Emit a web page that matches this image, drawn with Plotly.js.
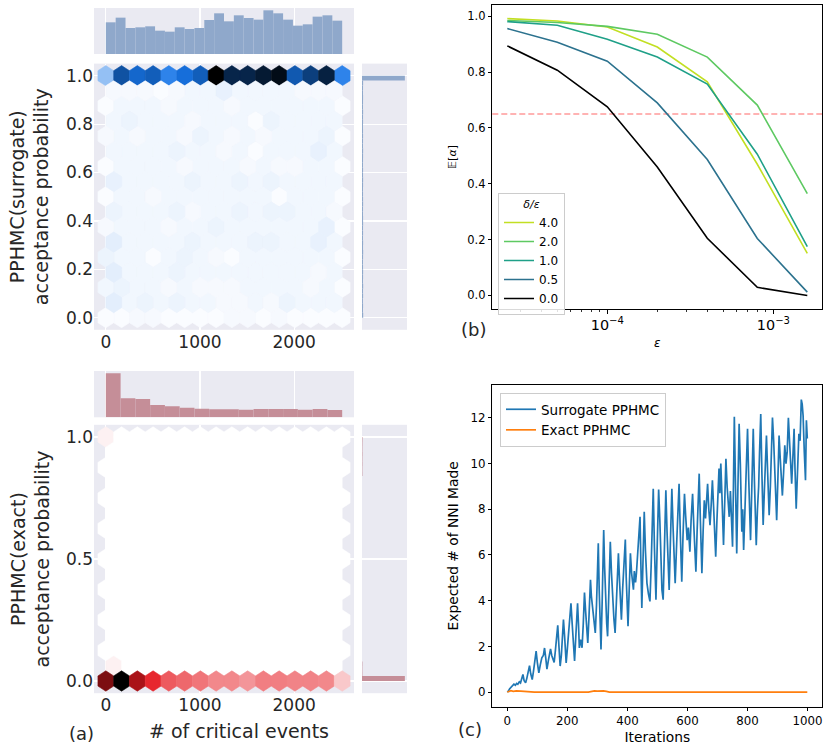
<!DOCTYPE html>
<html>
<head>
<meta charset="utf-8">
<script src="https://cdn.plot.ly/plotly-3.0.1.min.js"></script>
<style>html,body{margin:0;padding:0;background:#fff}#chart{width:831px;height:748px}</style>
</head>
<body>
<div id="chart"></div>
<script>
// ================= DATA =================
// (a) joint plots: number of critical events vs. acceptance probability
const maxEvents = 2510;
const hexColumns = 15;          // hexbin gridsize in x
const hexRowsPerUnit = 8;       // hexbin gridsize in y

// top marginal histograms (counts per bin of # critical events)
const surrEventHist = [95,109,78,80,83,70,67,80,75,78,102,122,98,116,108,103,131,122,103,85,89,112,116,100];
const exactEventHist = [132,57,55,37,33,29,26,24,24,23,25,25,25,23,25,22];

// right marginal histograms (acceptance probability, bins of 0.02 from 0 to 1)
const accBinWidth = 0.02;
const surrAccHist = [2.8,2.3,2.5,2.2,2.6,2.4,2.7,2.3,2.5,2.6,2.4,2.3,2.5,2.7,2.4,2.6,2.3,2.5,2.4,2.6,2.5,2.3,2.4,2.6,2.5,2.4,2.3,2.5,2.6,2.4,2.5,2.3,2.4,2.5,2.6,2.3,2.4,2.5,2.4,2.3,2.5,2.4,2.6,2.3,2.4,2.5,2.3,2.4,2.6,100];
const exactAccHist = [100,0.9,0.8,0.9,0,0,0,0,0,0,0,0,0,0,0,0,0,0,0,0,0,0,0,0,0,0,0,0,0,0,0,0,0,0,0,0,0,0,0,0,0,0,0.9,0.8,1.0,0.9,1.1,0.9,1.0,1.1];

// hexbin counts, main lattice rows (y = 1.0 down to 0.0), 16 hexes each
const surrHexMain = [
  [23,65,56,60,45,53,60,100,84,84,89,95,62,73,86,45],
  [1,3,3,3,2,3,3,3,2,3,3,3,3,3,3,1],
  [2,3,2,3,3,2,4,3,2,3,2,3,3,3,4,1],
  [1,3,3,3,3,2,3,3,3,2,3,2,2,3,3,1],
  [1,3,3,2,3,3,3,3,3,3,3,1,3,3,3,1],
  [2,3,3,3,2,3,3,4,3,3,3,3,3,3,5,1],
  [4,3,3,1,3,4,3,2,1,3,3,3,3,3,3,1],
  [3,4,3,3,2,3,2,2,2,3,3,3,3,2,3,1],
  [1,1,2,2,1,1,1,1,2,2,1,2,1,1,1,1]
];
// offset lattice rows (y = 0.9375 down to 0.0625), 15 hexes each
const surrHexOffset = [
  [2,2,2,1,2,3,3,5,3,3,3,3,2,2,2],
  [3,4,3,3,3,2,3,3,3,1,4,3,3,3,3],
  [3,3,3,3,4,3,3,2,3,1,3,3,3,5,3],
  [5,3,3,3,3,4,3,3,4,3,4,3,3,3,3],
  [4,3,3,3,4,2,3,3,4,3,4,4,3,3,2],
  [6,3,3,3,3,4,3,3,3,4,4,3,3,5,3],
  [6,3,3,3,4,3,3,3,3,3,3,3,3,2,3],
  [6,3,4,3,4,3,3,2,2,3,2,4,3,3,3]
];
const exactHexMain = [
  [3,0,0,0,0,0,0,0,0,0,0,0,0,0,0,0],
  [0,0,0,0,0,0,0,0,0,0,0,0,0,0,0,0],
  [0,0,0,0,0,0,0,0,0,0,0,0,0,0,0,0],
  [0,0,0,0,0,0,0,0,0,0,0,0,0,0,0,0],
  [0,0,0,0,0,0,0,0,0,0,0,0,0,0,0,0],
  [0,0,0,0,0,0,0,0,0,0,0,0,0,0,0,0],
  [0,0,0,0,0,0,0,0,0,0,0,0,0,0,0,0],
  [0,0,0,0,0,0,0,0,0,0,0,0,0,0,0,0],
  [73,100,63,47,36,33,30,26,26,23,28,28,27,27,26,12]
];
const exactHexOffset = [
  [0,0,0,0,0,0,0,0,0,0,0,0,0,0,0],
  [0,0,0,0,0,0,0,0,0,0,0,0,0,0,0],
  [0,0,0,0,0,0,0,0,0,0,0,0,0,0,0],
  [0,0,0,0,0,0,0,0,0,0,0,0,0,0,0],
  [0,0,0,0,0,0,0,0,0,0,0,0,0,0,0],
  [0,0,0,0,0,0,0,0,0,0,0,0,0,0,0],
  [0,0,0,0,0,0,0,0,0,0,0,0,0,0,0],
  [3,0,0,0,0,0,0,0,0,0,0,0,0,0,0]
];

// (b) expected acceptance vs step size
const epsilon = [2.5e-5, 5e-5, 1e-4, 2e-4, 4e-4, 8e-4, 1.6e-3];
const ratioLabels = ['4.0', '2.0', '1.0', '0.5', '0.0'];
const accRatio4 = [0.992, 0.983, 0.962, 0.890, 0.765, 0.470, 0.151];
const accRatio2 = [0.985, 0.978, 0.964, 0.936, 0.854, 0.682, 0.365];
const accRatio1 = [0.981, 0.968, 0.918, 0.854, 0.757, 0.506, 0.175];
const accRatio05 = [0.956, 0.907, 0.839, 0.690, 0.487, 0.204, 0.012];
const accRatio0 = [0.894, 0.807, 0.676, 0.460, 0.205, 0.029, 0.000];
const targetAcceptance = 0.65;

// (c) expected number of NNI moves
const iterSurr = [0,4,8,13,18,22,27,31,35,40,44,48,52,56,61,65,70,74,78,83,87,92,96,100,105,110,115,120,124,128,132,137,141,144,148,152,156,160,164,168,172,176,180,184,187,191,196,200,204,208,212,216,220,224,228,231,234,237,240,244,249,253,257,261,264,268,272,277,280,284,288,293,297,300,303,306,309,312,316,321,324,327,331,334,338,343,347,351,355,359,363,366,370,374,377,380,384,388,393,396,399,402,406,410,414,417,420,423,427,430,434,438,442,445,448,452,456,460,465,470,475,479,482,486,490,495,499,504,508,512,515,519,523,528,532,535,539,543,548,552,556,559,564,568,572,576,581,585,590,594,599,603,608,612,617,621,625,628,632,636,639,643,648,652,656,660,664,667,671,675,679,683,687,691,694,698,702,705,708,711,715,720,724,728,732,736,739,743,746,750,753,756,760,764,768,772,776,781,784,787,790,794,797,800,804,807,810,814,819,823,826,829,833,837,840,844,848,852,856,860,863,867,872,876,880,883,887,890,894,897,901,905,909,912,916,920,924,928,932,936,940,944,947,951,955,958,962,966,971,975,979,982,985,989,993,996,999];
const nniSurr = [0,0.05,0.15,0.22,0.25,0.35,0.3,0.38,0.34,0.45,0.4,0.6,0.77,0.5,0.41,0.6,0.95,1.16,0.8,0.55,0.9,1.4,1.79,1.3,0.84,1.2,1.5,1.6,1.93,1.5,1.0,1.4,1.7,1.89,1.6,1.42,1.3,1.8,2.4,2.92,2.0,1.14,1.6,2.6,3.17,2.4,1.28,1.9,2.6,3.3,3.89,3.0,2.0,1.36,2.4,3.2,3.89,3.0,1.93,2.3,1.94,3.0,4.36,3.5,2.8,2.15,3.3,4.91,4.2,3.75,3.2,2.59,3.8,5.3,6.51,4.5,3.0,1.86,4.0,7.09,5.5,4.2,3.0,2.44,4.0,6.58,5.2,4.04,3.2,2.59,3.8,5.0,6.07,4.8,3.8,3.17,4.5,5.6,6.68,5.0,3.8,2.88,4.5,6.07,5.2,4.6,4.48,5.3,4.8,5.2,6.07,6.9,7.67,5.5,3.68,5.8,7.89,6.2,4.77,4.3,3.97,5.5,7.3,8.9,6.3,4.04,6.3,8.86,7.5,6.07,4.47,4.04,6.2,8.83,7.0,5.6,4.47,6.5,8.9,7.2,5.8,4.76,6.5,7.8,9.12,7.0,4.83,6.8,8.68,7.7,6.65,7.2,6.14,7.5,8.68,7.3,6.1,5.27,7.0,8.4,9.56,7.5,5.2,7.0,8.39,7.6,8.3,9.12,8.0,7.3,8.2,9.27,8.1,7.0,5.92,7.5,8.8,9.78,8.7,10.0,8.5,6.44,8.3,10.21,9.0,8.2,7.67,8.8,7.5,6.36,9.0,12.05,9.0,6.07,9.0,11.74,10.0,7.02,8.0,6.22,7.4,8.76,10.0,11.52,9.3,7.8,6.65,8.8,11.52,9.2,7.5,6.43,8.0,9.0,10.5,12.17,9.5,7.31,8.8,10.3,11.23,9.6,7.74,9.0,10.8,12.02,11.0,10.0,8.8,7.52,9.3,11.23,10.2,9.5,8.6,9.6,10.8,10.0,10.5,12.0,10.8,9.9,9.12,10.3,11.52,9.8,8.03,9.5,11.3,11.0,12.8,12.6,12.1,10.5,9.27,11.9,11.1];
const iterExact = [0,6,12,20,30,45,60,75,90,270,280,290,300,310,320,330,340,999];
const nniExact = [0,0.04,0.06,0.03,0.05,0.04,0.03,0.02,0,0,0.03,0.05,0.04,0.06,0.05,0.03,0,0];

// ================= LAYOUT HELPERS =================
const W = 831, H = 748;
const px = (a, b) => [a / W, b / W];
const py = (top, bottom) => [1 - bottom / H, 1 - top / H];
const dom = {
  hexX: px(94, 354), margX: px(362, 407),
  surrY: py(63.6, 329.8), surrHistY: py(8, 54),
  exactY: py(424.8, 693.2), exactHistY: py(371, 417.3),
  rightX: px(492.3, 822.3), bY: py(4.7, 309.3), cY: py(385, 706.7)
};
const darkText = '#262626';
const blueHue = 213, blueSat = 82, redHue = 358, redSat = 80;
const surrBarColor = '#8fa8cb', exactBarColor = '#c58e98';

function hexTraces(mainRows, offRows, hue, sat, xa, ya) {
  const sx = maxEvents / hexColumns, sy = 1 / hexRowsPerUnit;
  const cmax = Math.max(...mainRows.flat(), ...offRows.flat());
  const groups = {};
  const add = (cx, cy, c) => {
    const L = 100 * (1 - c / cmax);
    const col = 'hsl(' + hue + ',' + sat + '%,' + L.toFixed(1) + '%)';
    if (!groups[col]) groups[col] = {x: [], y: []};
    const g = groups[col];
    g.x.push(cx + sx/2, cx + sx/2, cx, cx - sx/2, cx - sx/2, cx, cx + sx/2, null);
    g.y.push(cy - sy/6, cy + sy/6, cy + sy/3, cy + sy/6, cy - sy/6, cy - sy/3, cy - sy/6, null);
  };
  mainRows.forEach((row, r) => row.forEach((c, i) => add(i * sx, 1 - r * sy, c)));
  offRows.forEach((row, r) => row.forEach((c, i) => add((i + 0.5) * sx, 1 - sy/2 - r * sy, c)));
  return Object.keys(groups).map(col => ({
    type: 'scatter', mode: 'lines', x: groups[col].x, y: groups[col].y,
    fill: 'toself', fillcolor: col, line: {color: col, width: 0.6},
    xaxis: xa, yaxis: ya, hoverinfo: 'skip', showlegend: false
  }));
}
function eventBars(counts, color, xa, ya) {
  const w = maxEvents / counts.length;
  return {type: 'bar', x: counts.map((_, i) => (i + 0.5) * w), y: counts, width: w,
    marker: {color: color, line: {width: 0}}, xaxis: xa, yaxis: ya, hoverinfo: 'skip', showlegend: false};
}
function accBars(counts, color, xa, ya) {
  return {type: 'bar', orientation: 'h', y: counts.map((_, i) => (i + 0.5) * accBinWidth), x: counts,
    width: accBinWidth, marker: {color: color, line: {width: 0}}, xaxis: xa, yaxis: ya, hoverinfo: 'skip', showlegend: false};
}

const traces = [];
traces.push(...hexTraces(surrHexMain, surrHexOffset, blueHue, blueSat, 'x', 'y'));
traces.push(eventBars(surrEventHist, surrBarColor, 'x2', 'y2'));
traces.push(accBars(surrAccHist, surrBarColor, 'x3', 'y3'));
traces.push(...hexTraces(exactHexMain, exactHexOffset, redHue, redSat, 'x4', 'y4'));
traces.push(eventBars(exactEventHist, exactBarColor, 'x5', 'y5'));
traces.push(accBars(exactAccHist, exactBarColor, 'x6', 'y6'));

const ratioSeries = [accRatio4, accRatio2, accRatio1, accRatio05, accRatio0];
const ratioColors = ['#c2df23', '#5ec962', '#1fa088', '#2c728e', '#000000'];
ratioSeries.forEach((vals, k) => traces.push({
  type: 'scatter', mode: 'lines', x: epsilon, y: vals, name: ratioLabels[k],
  line: {color: ratioColors[k], width: 1.6}, xaxis: 'x7', yaxis: 'y7', legend: 'legend'
}));
traces.push({type: 'scatter', mode: 'lines', x: iterSurr, y: nniSurr, name: 'Surrogate PPHMC',
  line: {color: '#1f77b4', width: 1.7}, xaxis: 'x8', yaxis: 'y8', legend: 'legend2'});
traces.push({type: 'scatter', mode: 'lines', x: iterExact, y: nniExact, name: 'Exact PPHMC',
  line: {color: '#ff7f0e', width: 1.7}, xaxis: 'x8', yaxis: 'y8', legend: 'legend2'});

// axis ranges (matplotlib style 5% margins)
const evRange = [-0.05 * maxEvents, 1.05 * maxEvents];
const accRange = [-0.05, 1.05];
const lgLo = Math.log10(epsilon[0]), lgHi = Math.log10(epsilon[epsilon.length - 1]);
const lgSpan = lgHi - lgLo;
const bMax = Math.max(...ratioSeries.flat());
const cMax = Math.max(...nniSurr);
const cIterMax = iterSurr[iterSurr.length - 1];

const sea = {showgrid: true, gridcolor: 'white', gridwidth: 1.2, zeroline: false, showline: false, ticks: ''};
const noLab = {showticklabels: false};
const mpl = {showline: true, mirror: true, linecolor: 'black', linewidth: 1, ticks: 'outside', ticklen: 3.5,
  tickwidth: 1, tickcolor: 'black', showgrid: false, zeroline: false};

const layout = {
  width: W, height: H, margin: {l: 0, r: 0, t: 0, b: 0},
  paper_bgcolor: 'white', plot_bgcolor: '#EAEAF2',
  font: {family: 'DejaVu Sans', color: darkText, size: 12},
  showlegend: true,
  xaxis: Object.assign({}, sea, {domain: dom.hexX, range: evRange, tickvals: [0, 1000, 2000], anchor: 'y', tickfont: {size: 17}}),
  yaxis: Object.assign({}, sea, {domain: dom.surrY, range: accRange, dtick: 0.2, tick0: 0, tickformat: '.1f', anchor: 'x', tickfont: {size: 17}}),
  xaxis2: Object.assign({}, sea, noLab, {domain: dom.hexX, range: evRange, tickvals: [0, 1000, 2000], anchor: 'y2'}),
  yaxis2: Object.assign({}, sea, noLab, {domain: dom.surrHistY, range: [0, 1.053 * Math.max(...surrEventHist)], showgrid: false, anchor: 'x2'}),
  xaxis3: Object.assign({}, sea, noLab, {domain: dom.margX, range: [0, 1.05 * Math.max(...surrAccHist)], showgrid: false, anchor: 'y3'}),
  yaxis3: Object.assign({}, sea, noLab, {domain: dom.surrY, range: accRange, dtick: 0.2, tick0: 0, anchor: 'x3'}),
  xaxis4: Object.assign({}, sea, {domain: dom.hexX, range: evRange, tickvals: [0, 1000, 2000], anchor: 'y4', tickfont: {size: 17}}),
  yaxis4: Object.assign({}, sea, {domain: dom.exactY, range: accRange, dtick: 0.5, tick0: 0, tickformat: '.1f', anchor: 'x4', tickfont: {size: 17}}),
  xaxis5: Object.assign({}, sea, noLab, {domain: dom.hexX, range: evRange, tickvals: [0, 1000, 2000], anchor: 'y5'}),
  yaxis5: Object.assign({}, sea, noLab, {domain: dom.exactHistY, range: [0, 1.053 * Math.max(...exactEventHist)], showgrid: false, anchor: 'x5'}),
  xaxis6: Object.assign({}, sea, noLab, {domain: dom.margX, range: [0, 1.05 * Math.max(...exactAccHist)], showgrid: false, anchor: 'y6'}),
  yaxis6: Object.assign({}, sea, noLab, {domain: dom.exactY, range: accRange, dtick: 0.5, tick0: 0, anchor: 'x6'}),
  xaxis7: Object.assign({}, mpl, {domain: dom.rightX, type: 'log', range: [lgLo - 0.05 * lgSpan, lgHi + 0.05 * lgSpan],
    dtick: 1, exponentformat: 'power', anchor: 'y7', tickfont: {size: 11.5, color: 'black'},
    minor: {ticks: 'outside', ticklen: 2, tickwidth: 0.8, tickcolor: 'black', dtick: 'D1', showgrid: false},
    title: {text: '<i>ε</i>', font: {size: 12, color: 'black'}, standoff: 6}}),
  yaxis7: Object.assign({}, mpl, {domain: dom.bY, range: [-0.05 * bMax, 1.05 * bMax], dtick: 0.2, tick0: 0, tickformat: '.1f',
    anchor: 'x7', tickfont: {size: 11.5, color: 'black'},
    title: {text: '𝔼[<i>α</i>]', font: {size: 11, color: 'black'}, standoff: 8}}),
  xaxis8: Object.assign({}, mpl, {domain: dom.rightX, range: [-0.05 * cIterMax, 1.05 * cIterMax], dtick: 200, anchor: 'y8',
    tickfont: {size: 11.8, color: 'black'}, title: {text: 'Iterations', font: {size: 13.8, color: 'black'}, standoff: 4}}),
  yaxis8: Object.assign({}, mpl, {domain: dom.cY, range: [-0.05 * cMax, 1.05 * cMax], dtick: 2, tick0: 0, anchor: 'x8',
    tickfont: {size: 11.8, color: 'black'}, title: {text: 'Expected # of NNI Made', font: {size: 13.8, color: 'black'}, standoff: 8}}),
  legend: {x: 498 / W, y: 1 - 192.7 / H, xanchor: 'left', yanchor: 'top', bgcolor: 'rgba(255,255,255,0.85)',
    bordercolor: '#cccccc', borderwidth: 1, font: {size: 12, color: 'black'}, itemwidth: 30, tracegroupgap: 0,
    title: {text: '<i>δ/ε</i>', side: 'top center', font: {size: 11, color: 'black'}}},
  legend2: {x: 500 / W, y: 1 - 393 / H, xanchor: 'left', yanchor: 'top', bgcolor: 'rgba(255,255,255,0.85)',
    bordercolor: '#cccccc', borderwidth: 1, font: {size: 13.5, color: 'black'}, itemwidth: 30},
  shapes: [
    {type: 'rect', xref: 'paper', yref: 'paper', x0: dom.rightX[0], x1: dom.rightX[1], y0: dom.bY[0], y1: dom.bY[1],
      fillcolor: 'white', line: {width: 0}, layer: 'below'},
    {type: 'rect', xref: 'paper', yref: 'paper', x0: dom.rightX[0], x1: dom.rightX[1], y0: dom.cY[0], y1: dom.cY[1],
      fillcolor: 'white', line: {width: 0}, layer: 'below'},
    {type: 'line', xref: 'x7 domain', yref: 'y7', x0: 0, x1: 1, y0: targetAcceptance, y1: targetAcceptance,
      line: {color: 'rgba(255,0,0,0.4)', width: 1.5, dash: '6px,3px'}, layer: 'below'}
  ],
  annotations: [
    {text: 'PPHMC(surrogate)<br>acceptance probability', xref: 'paper', yref: 'paper', x: 29.5 / W, y: 1 - 196.7 / H,
      textangle: -90, showarrow: false, xanchor: 'center', yanchor: 'middle', font: {size: 19, color: darkText}},
    {text: 'PPHMC(exact)<br>acceptance probability', xref: 'paper', yref: 'paper', x: 29.5 / W, y: 1 - 559 / H,
      textangle: -90, showarrow: false, xanchor: 'center', yanchor: 'middle', font: {size: 19, color: darkText}},
    {text: '# of critical events', xref: 'paper', yref: 'paper', x: 239.3 / W, y: 1 - 731 / H,
      showarrow: false, xanchor: 'center', yanchor: 'middle', font: {size: 19, color: darkText}},
    {text: '(a)', xref: 'paper', yref: 'paper', x: 81 / W, y: 1 - 733 / H, showarrow: false,
      xanchor: 'center', yanchor: 'middle', font: {size: 18, color: darkText}},
    {text: '(b)', xref: 'paper', yref: 'paper', x: 473 / W, y: 1 - 329 / H, showarrow: false,
      xanchor: 'center', yanchor: 'middle', font: {size: 18, color: darkText}},
    {text: '(c)', xref: 'paper', yref: 'paper', x: 470 / W, y: 1 - 729 / H, showarrow: false,
      xanchor: 'center', yanchor: 'middle', font: {size: 18, color: darkText}}
  ]
};

Plotly.newPlot('chart', traces, layout, {displayModeBar: false, staticPlot: true});
</script>
</body>
</html>
